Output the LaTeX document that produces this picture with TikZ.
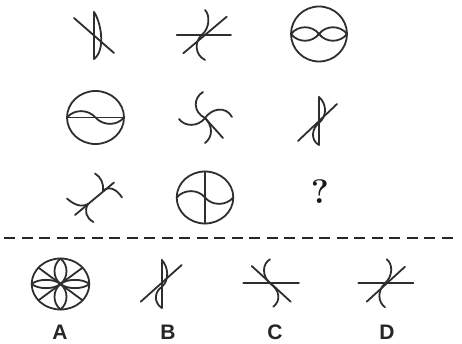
\documentclass[tikz,border=0pt]{standalone}
\usepackage{fontspec}
\newfontfamily\labfont{Liberation Sans}
\begin{document}
\begin{tikzpicture}[x=1pt,y=-1pt,
  stroke/.style={draw=black!82,line width=1.8pt,line cap=round,line join=round},
  optlabel/.style={font=\labfont\fontsize{21}{21}\selectfont\bfseries,text=black!85,inner sep=0pt},
  qmark/.style={font=\fontsize{34}{34}\selectfont\bfseries,text=black!90,inner sep=0pt}]
\useasboundingbox[fill=white] (0,0) rectangle (462,344);

% Row 1, col 1
\draw[stroke] (94,12) -- (94,59);
\draw[stroke] (94,12) .. controls (101,22) and (106,50) .. (94,59);
\draw[stroke] (74,18) -- (114,53);

% Row 1, col 2
\draw[stroke] (176.7,35) -- (231,35);
\draw[stroke] (183.3,53.3) -- (226.7,16.7);
\draw[stroke] (201.7,35) .. controls (210,28) and (210,15) .. (205,10);
\draw[stroke] (201.7,35) .. controls (194,42) and (195,55) .. (205,60);

% Row 1, col 3
\draw[stroke] (319,34) ellipse [x radius=28, y radius=27.5];
\draw[stroke] (291,34) .. controls (298,25) and (312,25) .. (319,34) .. controls (326,25) and (340,25) .. (347,34);
\draw[stroke] (291,34) .. controls (298,43) and (312,43) .. (319,34) .. controls (326,43) and (340,43) .. (347,34);

% Row 2, col 1
\draw[stroke] (95.5,117.5) ellipse [x radius=28.5, y radius=26.5];
\draw[stroke] (67,117.5) -- (124,117.5);
\draw[stroke] (67,117.5) .. controls (74,109) and (88,109) .. (95.5,117.5) .. controls (103,126) and (117,126) .. (124,117.5);

% Row 2, col 2
\draw[stroke] (205,118) .. controls (193,112) and (193,98) .. (203,92);
\draw[stroke] (205,118) .. controls (212,108) and (226,106) .. (232,117);
\draw[stroke] (205,118) .. controls (213,126) and (213,137) .. (205,143);
\draw[stroke] (205,118) .. controls (198,127) and (185,127) .. (179,119);
\draw[stroke] (205,118) -- (223,138);

% Row 2, col 3
\draw[stroke] (319,97) -- (319,145);
\draw[stroke] (319,97) .. controls (326,103) and (328,115) .. (319,123);
\draw[stroke] (319,123) .. controls (312,128) and (310,140) .. (319,145);
\draw[stroke] (298,141) -- (337,104);

% Row 3, col 1
\draw[stroke] (95,173.5) .. controls (101,177) and (104,184) .. (103,191);
\draw[stroke] (103,191) .. controls (108,186) and (116,188) .. (122,197.5);
\draw[stroke] (114,182.5) -- (75,215);
\draw[stroke] (67,198.5) .. controls (73,204) and (81,208) .. (88,204);
\draw[stroke] (88,204) .. controls (84,211) and (86,218) .. (93.5,222);

% Row 3, col 2
\draw[stroke] (205,197.5) ellipse [x radius=28.3, y radius=26];
\draw[stroke] (205,171.5) -- (205,223.5);
\draw[stroke] (176.7,197.5) .. controls (184,189) and (198,189) .. (205,197.5) .. controls (212,206) and (226,206) .. (233.3,197.5);

% Row 3, col 3
\node[qmark] (q) at (320,191.5) {?};

% Dashed separator
\draw[draw=black!85,line width=2.4pt,dash pattern=on 11pt off 6.5pt] (4,238) -- (458,238);

% Option A
\draw[stroke] (60.5,284) ellipse [x radius=28.8, y radius=25.5];
\draw[stroke] (31.7,284) .. controls (38,278.5) and (54,278.5) .. (60.5,284) .. controls (67,278.5) and (83,278.5) .. (89.3,284);
\draw[stroke] (31.7,284) .. controls (38,289.5) and (54,289.5) .. (60.5,284) .. controls (67,289.5) and (83,289.5) .. (89.3,284);
\draw[stroke] (60.5,258.5) .. controls (52.5,265) and (52.5,277.5) .. (60.5,284) .. controls (52.5,290.5) and (52.5,303) .. (60.5,309.5);
\draw[stroke] (60.5,258.5) .. controls (68.5,265) and (68.5,277.5) .. (60.5,284) .. controls (68.5,290.5) and (68.5,303) .. (60.5,309.5);
\draw[stroke] (38.4,267.6) -- (82.6,300.4);
\draw[stroke] (82.6,267.6) -- (38.4,300.4);

% Option B
\draw[stroke] (161.7,260) -- (161.7,308);
\draw[stroke] (161.7,260) .. controls (168,266) and (170,280) .. (161.7,287);
\draw[stroke] (161.7,287) .. controls (155,291) and (153,302) .. (161.7,308);
\draw[stroke] (140.7,301.7) -- (181.7,265);

% Option C
\draw[stroke] (243.3,283.3) -- (299,283.3);
\draw[stroke] (251.7,266) -- (290.7,301.7);
\draw[stroke] (270,283.3) .. controls (262,276) and (262,264) .. (270,259.3);
\draw[stroke] (270,283.3) .. controls (280,290) and (281,301) .. (273.3,306.7);

% Option D
\draw[stroke] (358.3,283.3) -- (413.3,283.3);
\draw[stroke] (366.7,301.7) -- (405,266.7);
\draw[stroke] (385,283.3) .. controls (393,276) and (393,264) .. (386.7,259.3);
\draw[stroke] (385,283.3) .. controls (377,291) and (378,302) .. (385,307.3);

% Labels
\node[optlabel] (la) at (60,332.5) {A};
\node[optlabel] (lb) at (168,332.5) {B};
\node[optlabel] (lc) at (275,332.5) {C};
\node[optlabel] (ld) at (387,332.5) {D};
\end{tikzpicture}
\end{document}
